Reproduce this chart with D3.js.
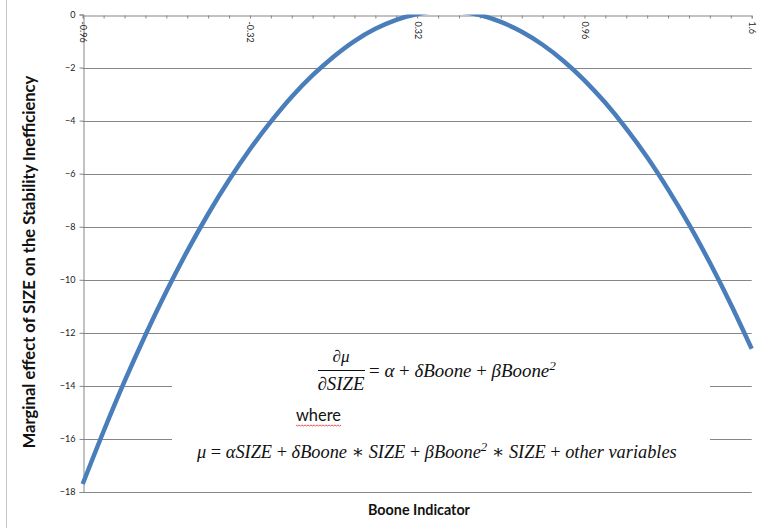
<!DOCTYPE html>
<html><head><meta charset="utf-8">
<script src="https://cdn.jsdelivr.net/npm/d3@7"></script>
<style>body{margin:0;background:#fff}</style>
</head><body>
<svg id="c" width="761" height="528"></svg>
<script>
const categories = [-0.96,-0.88,-0.80,-0.72,-0.64,-0.56,-0.48,-0.40,-0.32,-0.24,-0.16,-0.08,0,0.08,0.16,0.24,0.32,0.40,0.48,0.56,0.64,0.72,0.80,0.88,0.96,1.04,1.12,1.20,1.28,1.36,1.44,1.52,1.60];
const marginalEffect = [-17.7,-15.71,-13.83,-12.08,-10.44,-8.92,-7.52,-6.24,-5.08,-4.04,-3.1,-2.29,-1.59,-1.0,-0.54,-0.2,0.02,0.13,0.11,-0.02,-0.28,-0.65,-1.14,-1.75,-2.48,-3.33,-4.3,-5.38,-6.59,-7.91,-9.36,-10.92,-12.6];
const xTickLabels = ["-0.96","-0.32","0.32","0.96","1.6"];
const yTicks = [0,-2,-4,-6,-8,-10,-12,-14,-16,-18];
const xTitle = "Boone Indicator";
const yTitle = "Marginal effect of SIZE on the Stability Inefficiency";

const svg = d3.select("#c");
const L = 82.7, R = 751.7, T = 14.5, B = 492;
const x = d3.scalePoint().domain(categories).range([L, R]);
const y = d3.scaleLinear().domain([-18, 0]).range([B, T]);
const grid = "#868686";

function fit(sel, w) {
  const fs = parseFloat(sel.attr("font-size"));
  const len = sel.node().getComputedTextLength();
  sel.attr("font-size", fs * w / len);
  return sel;
}

// chart frame left edge
svg.append("line").attr("x1", 6.5).attr("x2", 6.5).attr("y1", 0).attr("y2", 528)
  .attr("stroke", "#c8c8c8").attr("stroke-width", 1);

// gridlines
svg.append("g").selectAll("line").data(yTicks.filter(d => d !== 0)).join("line")
  .attr("x1", L).attr("x2", R).attr("y1", d => Math.round(y(d)) + 0.5).attr("y2", d => Math.round(y(d)) + 0.5)
  .attr("stroke", grid).attr("stroke-width", 1);

// y axis
const ya = svg.append("g").attr("transform", `translate(${Math.round(L) + 0.5},0)`)
  .call(d3.axisLeft(y).tickValues(yTicks).tickSize(4).tickPadding(4).tickFormat(d3.format("d")));
ya.select(".domain").attr("stroke", grid);
ya.selectAll(".tick line").attr("stroke", grid);
ya.selectAll(".tick text").attr("font-family", "Lato, 'Open Sans', sans-serif").attr("font-size", 9).attr("fill", "#222");

// white box for the equation text
svg.append("rect").attr("x", 172).attr("y", 342).attr("width", 538).attr("height", 132).attr("fill", "#fff");

// x axis at top (y = 0)
const xa = svg.append("g").attr("transform", `translate(0,${Math.round(T) + 0.5})`)
  .call(d3.axisBottom(x).tickSize(3).tickPadding(5)
    .tickFormat(d => xTickLabels.includes(String(d)) ? String(d) : ""));
xa.select(".domain").attr("stroke", grid);
xa.selectAll(".tick line").attr("stroke", grid);
xa.selectAll(".tick text")
  .attr("font-family", "Lato, 'Open Sans', sans-serif").attr("font-size", 9).attr("fill", "#222")
  .attr("text-anchor", "start")
  .attr("transform", "rotate(90)")
  .attr("x", 6).attr("y", 0).attr("dy", "0.35em");

// curve
svg.append("clipPath").attr("id", "clip").append("rect")
  .attr("x", 0).attr("y", T).attr("width", 761).attr("height", B - T + 20);
svg.append("path").datum(categories.map((c, i) => [c, marginalEffect[i]]))
  .attr("clip-path", "url(#clip)")
  .attr("fill", "none").attr("stroke", "#4a7ebb").attr("stroke-width", 4.5)
  .attr("stroke-linejoin", "round")
  .attr("d", d3.line().x(d => x(d[0])).y(d => y(d[1])).curve(d3.curveMonotoneX));

// titles
fit(svg.append("text").attr("x", 419).attr("y", 515).attr("text-anchor", "middle")
  .attr("font-family", "Lato, 'Open Sans', sans-serif").attr("font-weight", "bold")
  .attr("font-size", 14).attr("fill", "#111").text(xTitle), 102);
fit(svg.append("text").attr("transform", "translate(35,262) rotate(-90)").attr("text-anchor", "middle")
  .attr("font-family", "Lato, 'Open Sans', sans-serif").attr("font-weight", "bold")
  .attr("font-size", 14).attr("fill", "#111").text(yTitle), 373);

// equations
const mf = "'Liberation Serif', 'DejaVu Serif', serif";
function eq(xp, yp, parts, w, anchor) {
  const t = svg.append("text").attr("x", xp).attr("y", yp).attr("font-family", mf)
    .attr("font-size", 16).attr("fill", "#111").attr("text-anchor", anchor || "start");
  parts.forEach(p => {
    const s = t.append("tspan").text(p[0]);
    if (p[1] === "i") s.attr("font-style", "italic");
    if (p[1] === "sup") s.attr("font-style", "italic").attr("baseline-shift", "super").attr("font-size", "70%");
  });
  return fit(t, w);
}
eq(341, 362, [["∂", "n"], ["μ", "i"]], 17, "middle");
eq(341, 390, [["∂", "n"], ["SIZE", "i"]], 47, "middle");
svg.append("line").attr("x1", 318).attr("x2", 365).attr("y1", 370.5).attr("y2", 370.5)
  .attr("stroke", "#111").attr("stroke-width", 1);
eq(369, 377, [[" = ", "n"], ["α", "i"], [" + ", "n"], ["δBoone", "i"], [" + ", "n"], ["βBoone", "i"], ["2", "sup"]], 187);

fit(svg.append("text").attr("x", 296).attr("y", 421).attr("font-family", "Lato, 'Open Sans', sans-serif")
  .attr("font-size", 15).attr("fill", "#111").text("where"), 45);
// spell-check squiggle
const sq = d3.range(296, 341.1, 1.5).map((v, i) => [v, 425 + (i % 2 ? 1 : 0)]);
svg.append("path").attr("d", d3.line()(sq)).attr("fill", "none").attr("stroke", "#e03030").attr("stroke-width", 0.8);

eq(197, 458, [["μ", "i"], [" = ", "n"], ["αSIZE", "i"], [" + ", "n"], ["δBoone", "i"], [" ∗ ", "n"], ["SIZE", "i"],
  [" + ", "n"], ["βBoone", "i"], ["2", "sup"], [" ∗ ", "n"], ["SIZE", "i"], [" + ", "n"], ["other variables", "i"]], 480);
</script>
</body></html>
